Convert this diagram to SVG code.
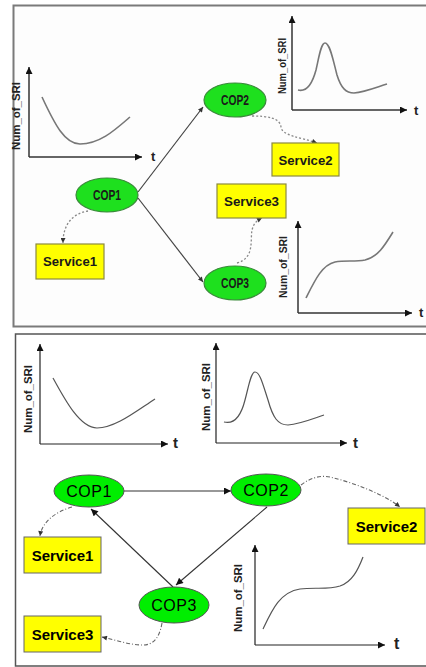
<svg xmlns="http://www.w3.org/2000/svg" width="426" height="667" viewBox="0 0 426 667">
<defs>
<style>
.frameT{fill:#fdfdfd;stroke:#7a7a7a;stroke-width:2}
.frameB{fill:#ffffff;stroke:#555;stroke-width:1.5}
.axT{stroke:#333;stroke-width:1.5;fill:none}
.axB{stroke:#222;stroke-width:1.2;fill:none}
.curveT{stroke:#777;stroke-width:1.6;fill:none}
.curveB{stroke:#555;stroke-width:1.2;fill:none}
.lbl{font-family:"Liberation Sans",Arial,sans-serif;font-weight:bold;fill:#222}
.copT{fill:#1ee01e;stroke:#3a8a3a;stroke-width:1.2}
.copB{fill:#00ee00;stroke:#555;stroke-width:1}
.svcT{fill:#ffff00;stroke:#8c8a40;stroke-width:1.2}
.svcB{fill:#ffff00;stroke:#666;stroke-width:1}
.solidT{stroke:#444;stroke-width:1.2;fill:none}
.solidB{stroke:#333;stroke-width:1.1;fill:none}
.dotT{stroke:#888;stroke-width:1.3;fill:none;stroke-dasharray:2,2}
.dotB{stroke:#666;stroke-width:1.1;fill:none;stroke-dasharray:4,2,1,2}
.ntT{font-family:"Liberation Sans",Arial,sans-serif;font-weight:bold;fill:#1a1a1a;text-anchor:middle}
.ntB{font-family:"Liberation Sans",Arial,sans-serif;fill:#000;text-anchor:middle}
</style>
<marker id="ah" viewBox="0 0 10 10" refX="10" refY="5" markerWidth="8" markerHeight="7" markerUnits="userSpaceOnUse" orient="auto"><path d="M0,0 L10,5 L0,10 z" fill="#111"/></marker>
<marker id="ahs" viewBox="0 0 10 10" refX="10" refY="5" markerWidth="6" markerHeight="5" markerUnits="userSpaceOnUse" orient="auto"><path d="M0,0 L10,5 L0,10 z" fill="#333"/></marker>
</defs>

<!-- Top panel -->
<g id="panel-top">
<rect class="frameT" x="13.5" y="5.5" width="420" height="321"/>
</g>

<g id="plot-top-1">
<path class="axT" d="M29,157 L29,67" marker-end="url(#ah)"/>
<path class="axT" d="M29,157 L142,157" marker-end="url(#ah)"/>
<text class="lbl" font-size="10" transform="translate(20,116) rotate(-90)" text-anchor="middle" textLength="68" lengthAdjust="spacingAndGlyphs">Num_of_SRI</text>
<text class="lbl" font-size="13" x="151" y="161">t</text>
<path class="curveT" d="M42,97 C55,125 65,144 80,144 C100,144 115,130 130,117"/>
</g>

<g id="plot-top-2">
<path class="axT" d="M292,110 L292,16" marker-end="url(#ah)"/>
<path class="axT" d="M292,110 L407,110" marker-end="url(#ah)"/>
<text class="lbl" font-size="10" transform="translate(286,66) rotate(-90)" text-anchor="middle" textLength="56" lengthAdjust="spacingAndGlyphs">Num_of_SRI</text>
<text class="lbl" font-size="13" x="414" y="115">t</text>
<path class="curveT" d="M298,90 C306,92 312,85 316,70 C319,57 321,43 325,43 C330,43 333,60 337,75 C341,88 346,93 354,93 C365,92 377,87 387,84"/>
</g>

<g id="plot-top-3">
<path class="axT" d="M298,313 L298,221" marker-end="url(#ah)"/>
<path class="axT" d="M298,313 L412,313" marker-end="url(#ah)"/>
<text class="lbl" font-size="10" transform="translate(287,267) rotate(-90)" text-anchor="middle" textLength="62" lengthAdjust="spacingAndGlyphs">Num_of_SRI</text>
<text class="lbl" font-size="13" x="419" y="317">t</text>
<path class="curveT" d="M306,298 C315,280 322,265 335,262 C345,260 355,262 365,260 C378,257 385,245 393,232"/>
</g>

<g id="connectors-top">
<path class="solidT" d="M138,192 L203,107" marker-end="url(#ahs)"/>
<path class="solidT" d="M138,198 L203,282" marker-end="url(#ahs)"/>
<path class="dotT" d="M88,211 C75,213 63,222 63,243" marker-end="url(#ahs)"/>
<path class="dotT" d="M252,116 C268,116 280,118 281,127 C282,136 300,137 317,143" marker-end="url(#ahs)"/>
<path class="dotT" d="M237,263 C255,258 250,240 252,230 C254,222 258,220 262,218" marker-end="url(#ahs)"/>
</g>

<g id="top-COP1"><ellipse class="copT" cx="107" cy="195" rx="31" ry="17"/><text class="ntT" x="107" y="200" font-size="14" textLength="28" lengthAdjust="spacingAndGlyphs">COP1</text></g>
<g id="top-COP2"><ellipse class="copT" cx="235" cy="100" rx="31" ry="17"/><text class="ntT" x="235" y="105" font-size="14" textLength="28" lengthAdjust="spacingAndGlyphs">COP2</text></g>
<g id="top-COP3"><ellipse class="copT" cx="235" cy="283" rx="31" ry="17"/><text class="ntT" x="235" y="288" font-size="14" textLength="28" lengthAdjust="spacingAndGlyphs">COP3</text></g>
<g id="top-Service1"><rect class="svcT" x="36" y="244" width="68" height="35"/><text class="ntT" x="70" y="266" font-size="13" textLength="54" lengthAdjust="spacingAndGlyphs">Service1</text></g>
<g id="top-Service2"><rect class="svcT" x="272" y="143" width="67" height="33"/><text class="ntT" x="305.5" y="165" font-size="13" textLength="54" lengthAdjust="spacingAndGlyphs">Service2</text></g>
<g id="top-Service3"><rect class="svcT" x="217" y="184" width="69" height="34"/><text class="ntT" x="251.5" y="206" font-size="13" textLength="55" lengthAdjust="spacingAndGlyphs">Service3</text></g>

<!-- Bottom panel -->
<g id="panel-bottom">
<rect class="frameB" x="15.5" y="334" width="420" height="332"/>
</g>

<g id="plot-bottom-1">
<path class="axB" d="M40,444 L40,344" marker-end="url(#ah)"/>
<path class="axB" d="M40,444 L168,444" marker-end="url(#ah)"/>
<text class="lbl" font-size="11.5" transform="translate(32,399) rotate(-90)" text-anchor="middle" textLength="68" lengthAdjust="spacingAndGlyphs">Num_of_SRI</text>
<text class="lbl" font-size="15" x="173" y="448">t</text>
<path class="curveB" d="M53,378 C65,400 80,428 97,428 C115,428 135,412 155,399"/>
</g>

<g id="plot-bottom-2">
<path class="axB" d="M216,443 L216,343" marker-end="url(#ah)"/>
<path class="axB" d="M216,443 L347,443" marker-end="url(#ah)"/>
<text class="lbl" font-size="11.5" transform="translate(210,397) rotate(-90)" text-anchor="middle" textLength="68" lengthAdjust="spacingAndGlyphs">Num_of_SRI</text>
<text class="lbl" font-size="15" x="353" y="448">t</text>
<path class="curveB" d="M224,422 C232,424 240,420 245,400 C249,385 251,372 255,372 C260,372 263,385 268,400 C273,418 278,425 288,425 C300,424 312,419 324,415"/>
</g>

<g id="plot-bottom-3">
<path class="axB" d="M255,645 L255,545" marker-end="url(#ah)"/>
<path class="axB" d="M255,645 L385,645" marker-end="url(#ah)"/>
<text class="lbl" font-size="11.5" transform="translate(242,598) rotate(-90)" text-anchor="middle" textLength="68" lengthAdjust="spacingAndGlyphs">Num_of_SRI</text>
<text class="lbl" font-size="16" x="394" y="649">t</text>
<path class="curveB" d="M263,629 C272,610 280,592 300,589 C315,587 327,590 340,586 C352,582 358,570 363,557"/>
</g>

<g id="connectors-bottom">
<path class="solidB" d="M124,491 L231,491" marker-end="url(#ah)"/>
<path class="solidB" d="M267,507 L176,585" marker-end="url(#ah)"/>
<path class="solidB" d="M173,587 L91,509" marker-end="url(#ah)"/>
<path class="dotB" d="M72,507 C55,512 42,522 40,536" marker-end="url(#ahs)"/>
<path class="dotB" d="M301,485 C310,478 320,475 330,477 C355,483 385,495 400,507" marker-end="url(#ahs)"/>
<path class="dotB" d="M162,623 C160,635 155,645 143,645 C130,645 115,640 102,637" marker-end="url(#ahs)"/>
</g>

<g id="bottom-COP1"><ellipse class="copB" cx="89" cy="491" rx="35" ry="16"/><text class="ntB" x="89" y="497" font-size="16" letter-spacing="0.5">COP1</text></g>
<g id="bottom-COP2"><ellipse class="copB" cx="266" cy="490" rx="35" ry="16"/><text class="ntB" x="266" y="496" font-size="16" letter-spacing="0.5">COP2</text></g>
<g id="bottom-COP3"><ellipse class="copB" cx="174" cy="605" rx="35" ry="18"/><text class="ntB" x="174" y="611" font-size="16" letter-spacing="0.5">COP3</text></g>
<g id="bottom-Service1"><rect class="svcB" x="24" y="537" width="77" height="36"/><text class="ntB" x="62.5" y="561" font-size="15" font-weight="bold">Service1</text></g>
<g id="bottom-Service2"><rect class="svcB" x="348" y="508" width="77" height="36"/><text class="ntB" x="386.5" y="532" font-size="15" font-weight="bold">Service2</text></g>
<g id="bottom-Service3"><rect class="svcB" x="24" y="616" width="77" height="36"/><text class="ntB" x="62.5" y="640" font-size="15" font-weight="bold">Service3</text></g>
</svg>
